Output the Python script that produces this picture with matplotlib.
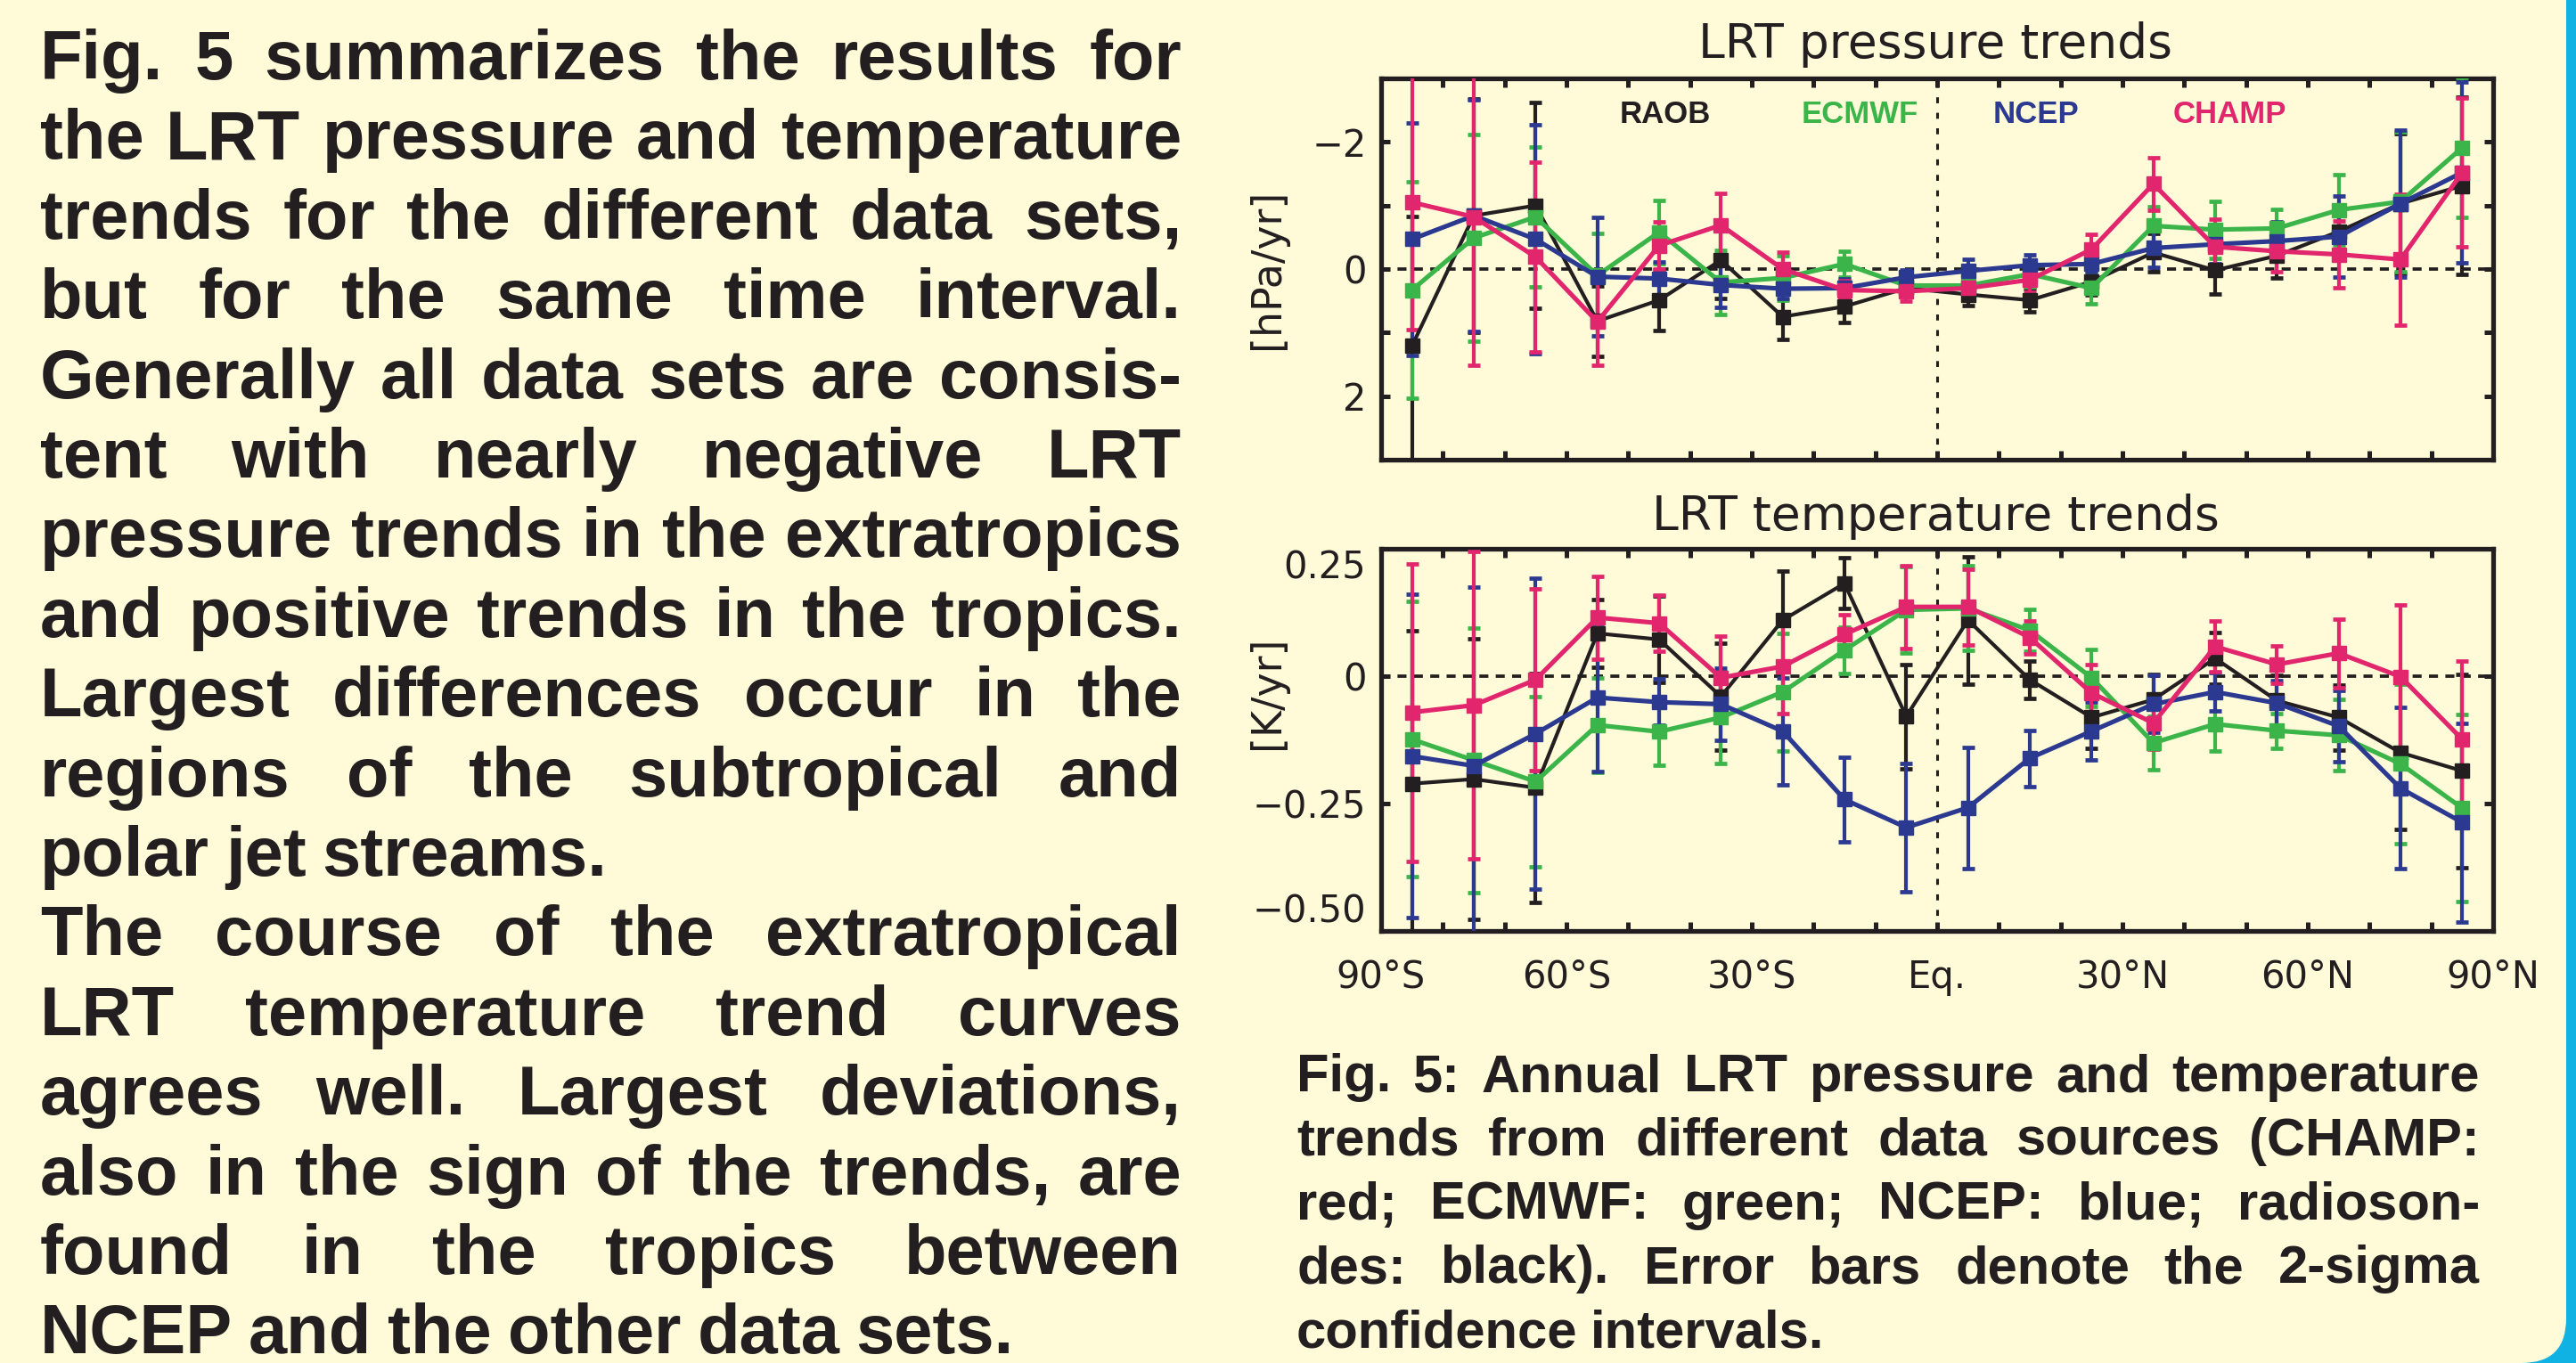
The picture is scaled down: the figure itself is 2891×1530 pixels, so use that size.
import matplotlib
matplotlib.use("Agg")
import matplotlib.pyplot as plt
from matplotlib.patches import FancyBboxPatch

# ---------------- data ----------------
lat = [-85, -75, -65, -55, -45, -35, -25, -15, -5, 5, 15, 25, 35, 45, 55, 65, 75, 85]

# LRT pressure trends [hPa/yr]
p_raob = [1.21, -0.84, -1.00, 0.82, 0.49, -0.14, 0.75, 0.59, 0.30, 0.40, 0.49, 0.20, -0.26, 0.02, -0.21, -0.59, -1.03, -1.31]
p_raob_err = [2.04, 1.84, 1.62, 0.55, 0.48, 0.60, 0.36, 0.25, 0.10, 0.18, 0.18, 0.20, 0.30, 0.37, 0.35, 0.30, 1.10, 1.40]
p_ecmwf = [0.33, -0.49, -0.82, 0.10, -0.58, 0.21, 0.14, -0.08, 0.26, 0.26, 0.08, 0.30, -0.68, -0.62, -0.64, -0.93, -1.06, -1.91]
p_ecmwf_err = [1.70, 1.62, 1.10, 0.66, 0.50, 0.50, 0.35, 0.20, 0.12, 0.20, 0.20, 0.25, 0.30, 0.45, 0.30, 0.55, 1.10, 1.10]
p_ncep = [-0.47, -0.84, -0.47, 0.12, 0.15, 0.25, 0.31, 0.30, 0.13, 0.03, -0.06, -0.08, -0.33, -0.39, -0.44, -0.51, -1.03, -1.52]
p_ncep_err = [1.83, 1.82, 1.80, 0.93, 0.26, 0.35, 0.15, 0.15, 0.12, 0.18, 0.16, 0.12, 0.30, 0.30, 0.30, 0.64, 1.15, 1.42]
p_champ = [-1.05, -0.82, -0.19, 0.83, -0.37, -0.69, 0.00, 0.33, 0.35, 0.30, 0.17, -0.31, -1.34, -0.35, -0.28, -0.23, -0.15, -1.52]
p_champ_err = [2.00, 2.34, 1.49, 0.68, 0.37, 0.50, 0.26, 0.15, 0.15, 0.15, 0.20, 0.23, 0.41, 0.43, 0.32, 0.53, 1.03, 1.17]

# LRT temperature trends [K/yr]
t_raob = [-0.211, -0.202, -0.219, 0.084, 0.072, -0.040, 0.110, 0.182, -0.079, 0.110, -0.007, -0.081, -0.046, 0.035, -0.048, -0.081, -0.150, -0.186]
t_raob_err = [0.300, 0.275, 0.225, 0.067, 0.085, 0.105, 0.096, 0.050, 0.102, 0.125, 0.037, 0.060, 0.050, 0.050, 0.050, 0.064, 0.150, 0.190]
t_ecmwf = [-0.124, -0.165, -0.207, -0.096, -0.109, -0.081, -0.031, 0.051, 0.130, 0.133, 0.090, -0.003, -0.131, -0.094, -0.107, -0.116, -0.172, -0.259]
t_ecmwf_err = [0.270, 0.260, 0.167, 0.093, 0.065, 0.090, 0.115, 0.046, 0.085, 0.083, 0.041, 0.056, 0.052, 0.053, 0.034, 0.070, 0.157, 0.183]
t_ncep = [-0.157, -0.176, -0.113, -0.042, -0.051, -0.055, -0.108, -0.242, -0.297, -0.258, -0.161, -0.108, -0.055, -0.031, -0.053, -0.098, -0.220, -0.287]
t_ncep_err = [0.317, 0.350, 0.305, 0.145, 0.046, 0.070, 0.105, 0.083, 0.126, 0.119, 0.055, 0.057, 0.056, 0.038, 0.045, 0.070, 0.158, 0.195]
t_champ = [-0.071, -0.057, -0.007, 0.115, 0.104, -0.003, 0.019, 0.082, 0.136, 0.136, 0.076, -0.033, -0.092, 0.058, 0.023, 0.045, -0.001, -0.124]
t_champ_err = [0.292, 0.302, 0.178, 0.081, 0.055, 0.082, 0.092, 0.038, 0.081, 0.074, 0.032, 0.056, 0.051, 0.050, 0.037, 0.067, 0.140, 0.153]

series_names = ["RAOB", "ECMWF", "NCEP", "CHAMP"]

x_ticks = list(range(-90, 91, 10))
x_ticklabels = ["90°S", "", "", "60°S", "", "", "30°S", "", "", "Eq.", "", "", "30°N", "", "", "60°N", "", "", "90°N"]
p_ticks = [-2, -1, 0, 1, 2]
p_ticklabels = ["−2", "", "0", "", "2"]
t_ticks = [-0.5, -0.25, 0, 0.25]
t_ticklabels = ["−0.50", "−0.25", "0", "0.25"]

body_lines = [
    "Fig. 5 summarizes the results for",
    "the LRT pressure and temperature",
    "trends for the different data sets,",
    "but for the same time interval.",
    "Generally all data sets are consis-",
    "tent with nearly negative LRT",
    "pressure trends in the extratropics",
    "and positive trends in the tropics.",
    "Largest differences occur in the",
    "regions of the subtropical and",
    "polar jet streams.",
    "The course of the extratropical",
    "LRT temperature trend curves",
    "agrees well. Largest deviations,",
    "also in the sign of the trends, are",
    "found in the tropics between",
    "NCEP and the other data sets.",
]
body_para_ends = {10, 16}

caption_lines = [
    "Fig. 5: Annual LRT pressure and temperature",
    "trends from different data sources (CHAMP:",
    "red; ECMWF: green; NCEP: blue; radioson-",
    "des: black). Error bars denote the 2-sigma",
    "confidence intervals.",
]
caption_para_ends = {4}

# ---------------- style ----------------
W, H, DPI = 2891, 1530, 100
BG = "#FFFAD8"
BORDER = "#10B1E3"
INK = "#231F20"
colors = {"RAOB": "#231F20", "ECMWF": "#3BB54A", "NCEP": "#2B3990", "CHAMP": "#E1266E"}

fig = plt.figure(figsize=(W / DPI, H / DPI), dpi=DPI, facecolor=BORDER)

# yellow panel with rounded bottom-right corner
panel = FancyBboxPatch((-3.0, 0.0), 28.80 + 3.0, 15.30 + 3.0,
                       boxstyle="round,pad=0,rounding_size=0.5",
                       transform=fig.dpi_scale_trans, facecolor=BG,
                       edgecolor="none", zorder=-10)
fig.add_artist(panel)


def fx(px):
    return px / W


def fy(py):
    return 1 - py / H


def setup_axes(ax):
    ax.set_facecolor("none")
    for s in ax.spines.values():
        s.set_linewidth(3.8)
        s.set_color(INK)
    ax.set_xlim(-90, 90)
    ax.set_xticks(x_ticks)
    ax.tick_params(axis="both", which="both", direction="in", length=7,
                   width=3.6, color=INK, top=True, right=True,
                   labelsize=30, labelcolor=INK)
    ax.tick_params(axis="y", pad=12)
    ax.tick_params(axis="x", pad=22)
    ax.axhline(0, color=INK, lw=2.7, ls=(0, (2.7, 2.2)), zorder=1)
    ax.axvline(0, color=INK, lw=2.2, ls=(0, (2.2, 3.5)), zorder=1)


def draw_series(ax, ys, errs):
    for name, y, e in zip(series_names, ys, errs):
        c = colors[name]
        lw = 3.0 if name == "RAOB" else 3.7
        ax.errorbar(lat, y, yerr=e, color=c, lw=lw, marker="s", ms=11,
                    mec=c, mfc=c, elinewidth=3.0, capsize=4.8, capthick=3.4,
                    zorder=3)


# ---- top panel: pressure
ax1 = fig.add_axes([fx(1550), fy(516), fx(1248), 428 / H])
setup_axes(ax1)
ax1.set_ylim(3, -3)
ax1.set_yticks(p_ticks)
ax1.set_yticklabels(p_ticklabels)
ax1.set_xticklabels([])
draw_series(ax1, [p_raob, p_ecmwf, p_ncep, p_champ],
            [p_raob_err, p_ecmwf_err, p_ncep_err, p_champ_err])
ax1.text(-0.102, 0.5, "[hPa/yr]", transform=ax1.transAxes, rotation=90,
         ha="center", va="center", fontsize=33, color=INK)

# ---- bottom panel: temperature
ax2 = fig.add_axes([fx(1550), fy(1045), fx(1248), 429 / H])
setup_axes(ax2)
ax2.set_ylim(-0.5, 0.25)
ax2.set_yticks(t_ticks)
ax2.set_yticklabels(t_ticklabels)
ax2.set_xticklabels(x_ticklabels)
ylabs = ax2.get_yticklabels()
ylabs[-1].set_va("top")
ylabs[0].set_va("bottom")
draw_series(ax2, [t_raob, t_ecmwf, t_ncep, t_champ],
            [t_raob_err, t_ecmwf_err, t_ncep_err, t_champ_err])
ax2.text(-0.102, 0.625, "[K/yr]", transform=ax2.transAxes, rotation=90,
         ha="center", va="center", fontsize=33, color=INK)

# titles
fig.text(fx(2172), fy(65), "LRT pressure trends", ha="center", va="baseline",
         fontsize=38.5, color=INK)
fig.text(fx(2172), fy(595), "LRT temperature trends", ha="center", va="baseline",
         fontsize=38.5, color=INK)

# legend labels inside the top panel
legend_x = [1869, 2087, 2285, 2502]
for name, xp in zip(series_names, legend_x):
    fig.text(fx(xp), fy(128), name, ha="center", va="center", fontsize=25,
             fontweight="bold", color=colors[name],
             family=["Liberation Sans Narrow", "Liberation Sans", "DejaVu Sans"])

# ---------------- justified text blocks ----------------
renderer = fig.canvas.get_renderer()


def justified(lines, para_ends, x0, x1, base0, dy, size, space):
    for i, line in enumerate(lines):
        words = line.split(" ")
        ypos = fy(base0 + i * dy)
        texts = [fig.text(0, ypos, w, ha="left", va="baseline", fontsize=size,
                          fontweight="bold", color=INK,
                          family=["Liberation Sans", "DejaVu Sans"])
                 for w in words]
        widths = [t.get_window_extent(renderer).width for t in texts]
        if i in para_ends or len(words) == 1:
            gap = space
        else:
            gap = (x1 - x0 - sum(widths)) / (len(words) - 1)
        x = x0
        for t, w in zip(texts, widths):
            t.set_x(fx(x))
            x += w + gap


justified(body_lines, body_para_ends, 45, 1326, 89, 89.4, 56, 18)
justified(caption_lines, caption_para_ends, 1455, 2783, 1225, 71.8, 43, 14)

fig.savefig("out.png", dpi=DPI, facecolor=fig.get_facecolor())
